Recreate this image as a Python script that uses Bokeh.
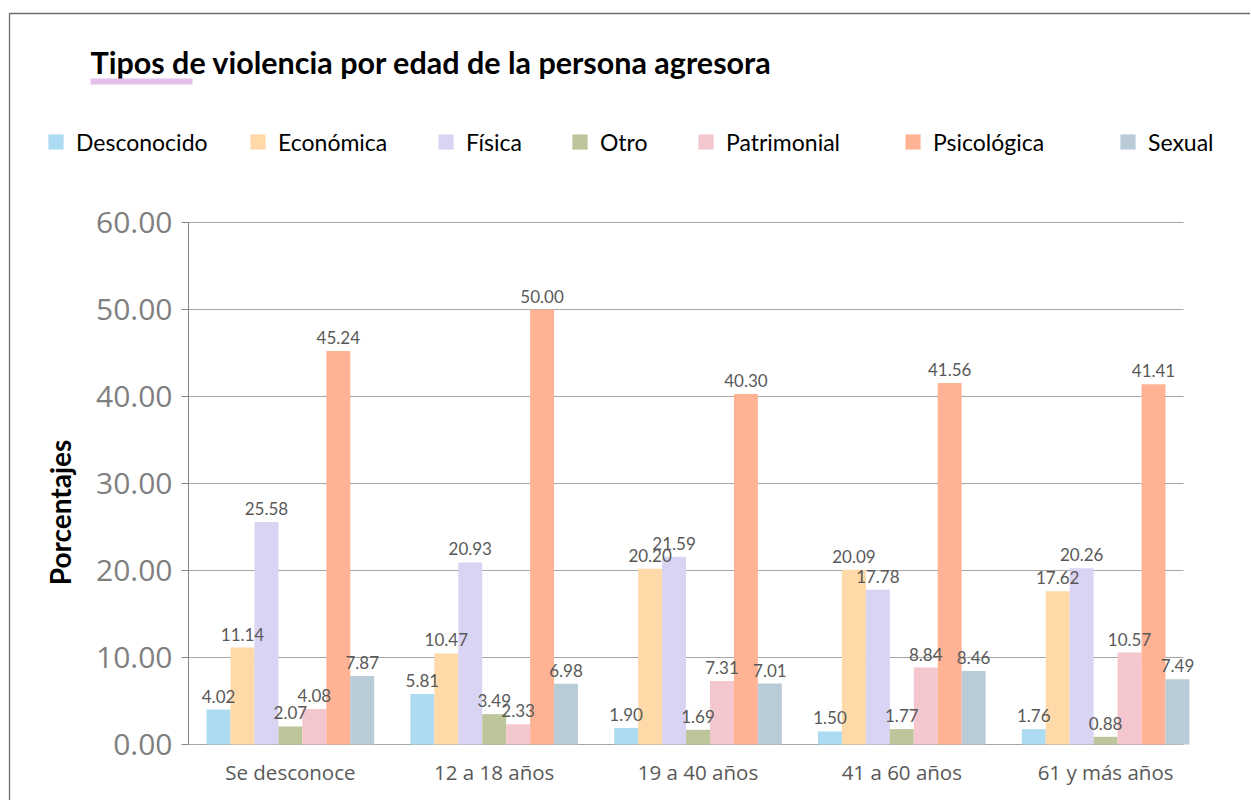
import math
from bokeh.plotting import figure
from bokeh.models import (ColumnDataSource, Range1d, FixedTicker, Label,
                          BoxAnnotation, Legend, LegendItem, CustomJSTickFormatter)
from bokeh.transform import dodge
from bokeh.core.properties import value
from bokeh.embed import file_html
from bokeh.resources import INLINE

title_text = "Tipos de violencia por edad de la persona agresora"
y_label = "Porcentajes"
categories = ["Se desconoce", "12 a 18 años", "19 a 40 años", "41 a 60 años", "61 y más años"]
series_names = ["Desconocido", "Económica", "Física", "Otro", "Patrimonial", "Psicológica", "Sexual"]
desconocido = [4.02, 5.81, 1.90, 1.50, 1.76]
economica = [11.14, 10.47, 20.20, 20.09, 17.62]
fisica = [25.58, 20.93, 21.59, 17.78, 20.26]
otro = [2.07, 3.49, 1.69, 1.77, 0.88]
patrimonial = [4.08, 2.33, 7.31, 8.84, 10.57]
psicologica = [45.24, 50.00, 40.30, 41.56, 41.41]
sexual = [7.87, 6.98, 7.01, 8.46, 7.49]
y_ticks = [0, 10, 20, 30, 40, 50, 60]

series_values = [desconocido, economica, fisica, otro, patrimonial, psicologica, sexual]
colors = ["#ADDBF1", "#FFD9A8", "#DAD4F4", "#BDC69B", "#F4C6CD", "#FFB294", "#B9CBD6"]

W, H = 1250, 800
# pixel layout: category axis origin at x=188, one category = 203.8 px;
# value 0 at y=744, 60 at y=222
X0PX, XUNIT = 188.0, 203.8
Y0PX, YUNIT = 744.0, (744.0 - 222.0) / 60.0


def xd(px):
    return (px - X0PX) / XUNIT


def yd(py):
    return (Y0PX - py) / YUNIT


p = figure(width=W, height=H, output_backend="svg", toolbar_location=None,
           x_range=Range1d(xd(0), xd(W)), y_range=Range1d(yd(H), yd(0)),
           min_border=0)
p.outline_line_color = None
p.background_fill_color = "white"
p.border_fill_color = "white"
p.xgrid.grid_line_color = None
p.ygrid.grid_line_color = None

# horizontal grid lines at the tick values (ending short, as in the source)
p.segment(x0=[0] * len(y_ticks), x1=[xd(1183)] * len(y_ticks), y0=y_ticks, y1=y_ticks,
          line_color="#A6A6A6", line_width=1)

centers = [i + 0.5 for i in range(len(categories))]
bw = 0.1175
sources = []
renderers = []
for i, (name, vals, col) in enumerate(zip(series_names, series_values, colors)):
    off = (i - 3) * bw
    src = ColumnDataSource(dict(xc=centers, val=vals, lbl=["%.2f" % v for v in vals]))
    sources.append((off, src))
    r = p.vbar(x=dodge("xc", off), top="val", width=bw, source=src,
               fill_color=col, line_color=None)
    renderers.append(r)
for off, src in sources:
    p.text(x=dodge("xc", off), y="val", text="lbl", source=src,
           text_align="center", text_baseline="bottom", y_offset=-7,
           text_font=value("Lato"), text_font_size="17px", text_color="#595959")

# axes
yax = p.yaxis[0]
yax.fixed_location = 0
yax.bounds = (0, 60)
yax.ticker = FixedTicker(ticks=y_ticks)
yax.formatter = CustomJSTickFormatter(code="return tick.toFixed(2);")
yax.major_label_text_font = "Open Sans"
yax.major_label_text_font_size = "30px"
yax.major_label_text_color = "#7F7F7F"
yax.major_tick_out = 7
yax.major_tick_in = 0
yax.minor_tick_line_color = None
yax.major_tick_line_color = "#868686"
yax.axis_line_color = "#868686"
yax.major_label_standoff = 9

xax = p.xaxis[0]
xax.fixed_location = 0
xax.ticker = FixedTicker(ticks=centers)
xax.major_label_overrides = {c: lab for c, lab in zip(centers, categories)}
xax.axis_line_color = None
xax.major_tick_line_color = None
xax.minor_tick_line_color = None
xax.major_label_text_font = "Open Sans"
xax.major_label_text_font_size = "20.5px"
xax.major_label_text_color = "#595959"
xax.major_label_standoff = 7

# y-axis title
p.add_layout(Label(x=xd(59), y=yd(512), text=y_label, angle=math.pi / 2,
                   text_font="Lato", text_font_style="bold", text_font_size="28px",
                   text_color="#000000", text_align="center", text_baseline="middle"))

# title + underline
p.add_layout(Label(x=xd(90), y=yd(61), text=title_text, text_font="Lato",
                   text_font_style="bold", text_font_size="30.5px", text_color="#000000",
                   text_baseline="middle", text_align="left"))
p.add_layout(BoxAnnotation(left=xd(90), right=xd(192), top=yd(78), bottom=yd(84),
                           fill_color="#E4C1EC", fill_alpha=1, line_color=None))
# outer chart border
p.add_layout(BoxAnnotation(left=xd(9), right=xd(1600), top=yd(13), bottom=yd(1200),
                           fill_alpha=0, line_color="#6B6B6B", line_alpha=1,
                           line_width=1.3))

# legend (one entry each, positioned like the source)
legend_x = [46, 248, 436, 570, 696, 903, 1118]
for name, r, lx in zip(series_names, renderers, legend_x):
    lg = Legend(items=[LegendItem(label=name, renderers=[r])],
                location=(lx, H - 155.5), orientation="horizontal",
                glyph_width=19, glyph_height=19, label_standoff=11,
                label_text_font="Lato", label_text_font_size="23px",
                label_text_color="#000000", padding=0, margin=0, spacing=0,
                border_line_color=None, background_fill_alpha=0)
    p.add_layout(lg, "center")

open("out.html", "w").write(file_html(p, INLINE))
